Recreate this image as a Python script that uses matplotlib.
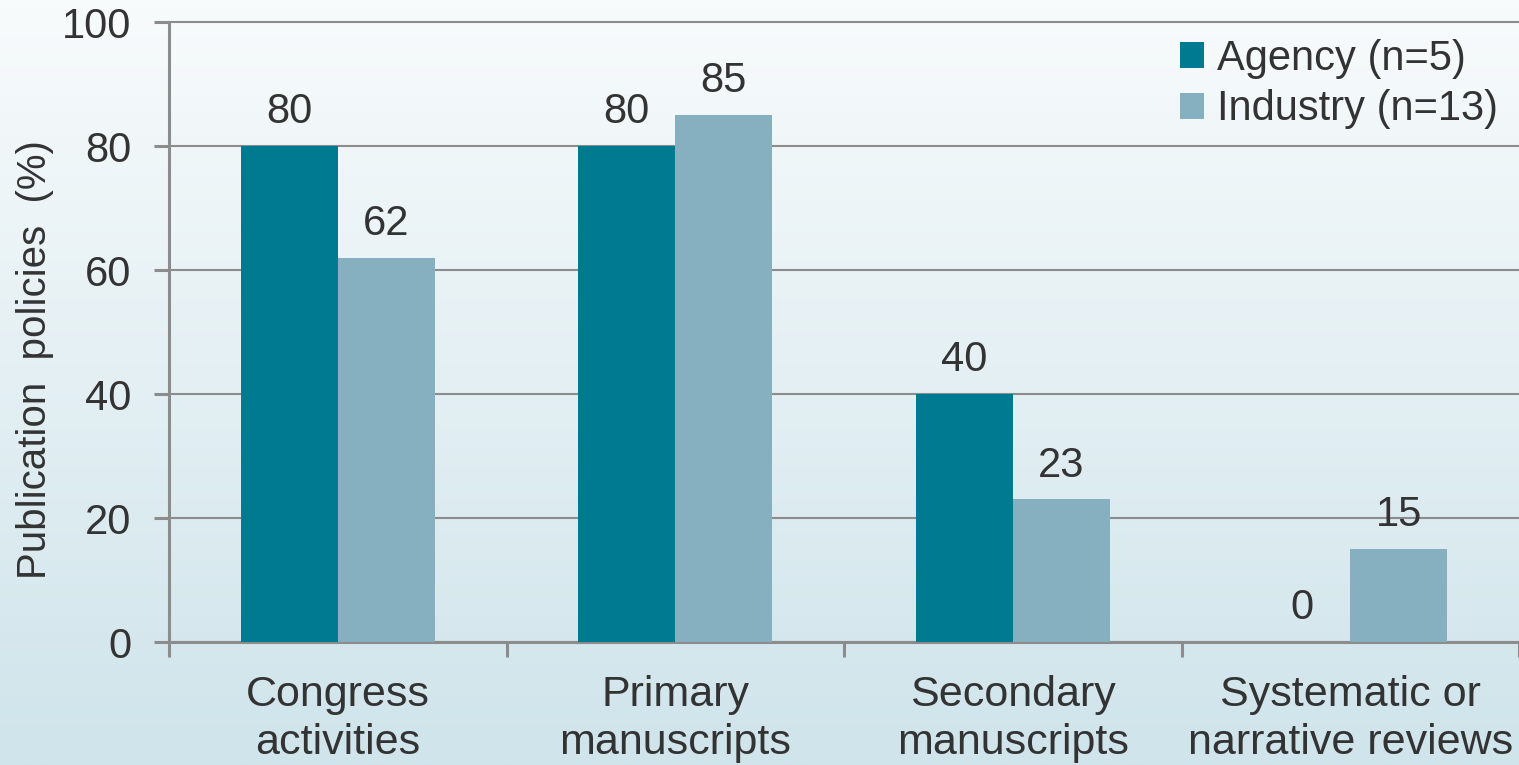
import matplotlib.pyplot as plt
import numpy as np

# Data
categories = ['Congress\nactivities', 'Primary\nmanuscripts',
              'Secondary\nmanuscripts', 'Systematic or\nnarrative reviews']
agency = [80, 80, 40, 0]
industry = [62, 85, 23, 15]
series_labels = ['Agency (n=5)', 'Industry (n=13)']

plt.rcParams['font.family'] = ['Liberation Sans', 'DejaVu Sans']
text_col = '#333333'
grid_col = '#8c8c8c'

fig = plt.figure(figsize=(15.19, 7.65), dpi=100)

# soft vertical gradient background
bg = fig.add_axes([0, 0, 1, 1], zorder=-10)
top = np.array([0xf8, 0xfb, 0xfc]) / 255
bot = np.array([0xcf, 0xe4, 0xeb]) / 255
t = np.linspace(0, 1, 256)[:, None]
grad = top + (bot - top) * t
bg.imshow(grad[:, None, :].repeat(2, axis=1), aspect='auto', extent=[0, 1, 0, 1])
bg.axis('off')

ax = fig.add_axes([169 / 1519, 1 - 642 / 765, 1 - 169 / 1519, (642 - 22) / 765])
ax.set_facecolor('none')

x = np.arange(len(categories))
w = 0.287
b1 = ax.bar(x - w / 2, agency, w, color='#007a91', label=series_labels[0], zorder=3)
b2 = ax.bar(x + w / 2, industry, w, color='#86afbf', label=series_labels[1], zorder=3)
ax.bar_label(b1, padding=10, fontsize=30, color=text_col)
ax.bar_label(b2, padding=10, fontsize=30, color=text_col)

ax.set_xlim(-0.5, 3.5)
ax.set_ylim(0, 100)
ax.set_yticks(range(0, 101, 20))
ax.yaxis.grid(True, color=grid_col, linewidth=1.5)
for gl in ax.yaxis.get_gridlines():
    gl.set_clip_on(False)
ax.set_axisbelow(True)

ax.set_xticks(x)
ax.set_xticklabels(categories, fontsize=31, color=text_col, linespacing=1.25)
ax.set_xticks(np.arange(-0.5, 4, 1), minor=True)
ax.tick_params(axis='x', which='major', length=0, pad=24)
ax.tick_params(axis='x', which='minor', length=11, width=2.2, color=grid_col)
ax.tick_params(axis='y', length=11, width=2.2, color=grid_col, labelsize=30,
               labelcolor=text_col, pad=16)

for s in ['top', 'right']:
    ax.spines[s].set_visible(False)
for s in ['left', 'bottom']:
    ax.spines[s].set_color(grid_col)
    ax.spines[s].set_linewidth(2.2)

ax.set_ylabel('Publication  policies  (%)', fontsize=29, color=text_col)
ax.yaxis.set_label_coords(-0.085, 0.455)

ax.legend(loc='upper left', bbox_to_anchor=(1180 / 1519, 1 - 39 / 765),
          bbox_transform=fig.transFigure, frameon=False, fontsize=30,
          handlelength=0.58, handleheight=0.58, handletextpad=0.3,
          labelspacing=0.25, borderpad=0, borderaxespad=0, labelcolor=text_col)

fig.savefig('out.png', dpi=100)
